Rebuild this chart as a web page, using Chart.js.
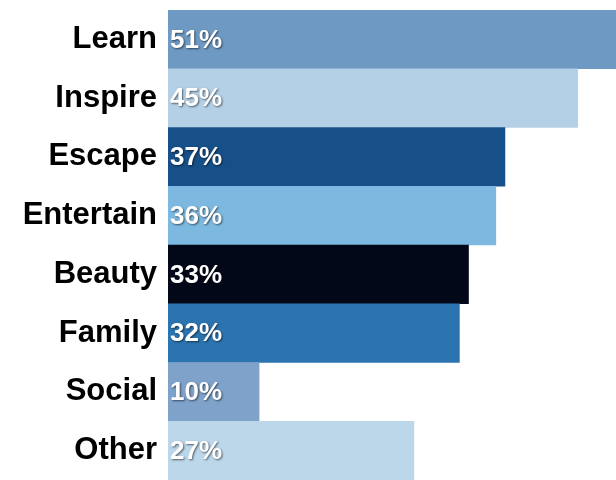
<!DOCTYPE html>
<html>
<head>
<meta charset="utf-8">
<script src="https://cdn.jsdelivr.net/npm/chart.js@4/dist/chart.umd.min.js"></script>
<style>
  html, body { margin: 0; padding: 0; background: #fff; }
  #wrap { width: 616px; height: 480px; position: relative; }
</style>
</head>
<body>
<div id="wrap"><canvas id="myChart"></canvas></div>
<script>
var categories = ['Learn', 'Inspire', 'Escape', 'Entertain', 'Beauty', 'Family', 'Social', 'Other'];
var shares = [51, 45, 37, 36, 33, 32, 10, 27];
var valueLabels = ['51%', '45%', '37%', '36%', '33%', '32%', '10%', '27%'];
var barColors = ['#6e99c3', '#b3d0e6', '#174f88', '#7db8e0', '#030818', '#2c74b0', '#7ea2ca', '#bcd6ea'];

var fontFamily = '"Liberation Sans", Arial, Helvetica, sans-serif';

// percent text inside each bar, white with a soft dark shadow
var insideLabels = {
  id: 'insideLabels',
  afterDatasetsDraw: function(chart) {
    var ctx = chart.ctx;
    var meta = chart.getDatasetMeta(0);
    ctx.save();
    ctx.font = 'bold 26px ' + fontFamily;
    ctx.textAlign = 'left';
    ctx.textBaseline = 'middle';
    ctx.fillStyle = '#ffffff';
    ctx.shadowColor = 'rgba(0,0,0,0.55)';
    ctx.shadowOffsetX = 1;
    ctx.shadowOffsetY = 1;
    ctx.shadowBlur = 2;
    meta.data.forEach(function(bar, i) {
      ctx.fillText(valueLabels[i], bar.base + 2, bar.y + 1);
    });
    ctx.restore();
  }
};

var ctx = document.getElementById('myChart').getContext('2d');
var chart = new Chart(ctx, {
  type: 'bar',
  data: {
    labels: categories,
    datasets: [{
      data: shares,
      backgroundColor: barColors,
      borderWidth: 0,
      barPercentage: 1,
      categoryPercentage: 1
    }]
  },
  options: {
    indexAxis: 'y',
    responsive: true,
    maintainAspectRatio: false,
    animation: false,
    layout: {
      autoPadding: false,
      padding: { top: 10, right: 0, bottom: 0, left: 0 }
    },
    plugins: {
      legend: { display: false },
      tooltip: { enabled: false }
    },
    scales: {
      x: {
        display: false,
        min: 0,
        max: 49.2
      },
      y: {
        grid: { display: false, drawTicks: false },
        border: { display: false },
        afterFit: function(scale) {
          scale.width = 168;
          scale.paddingTop = 0;
          scale.paddingBottom = 0;
        },
        ticks: {
          padding: 11,
          color: '#000',
          font: { family: fontFamily, size: 31, weight: 'bold' }
        }
      }
    }
  },
  plugins: [insideLabels]
});
</script>
</body>
</html>
